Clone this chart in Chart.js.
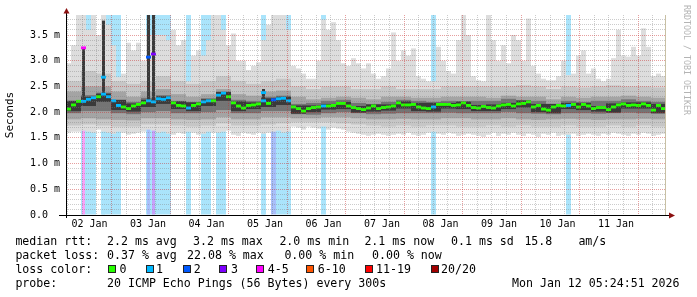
<!DOCTYPE html>
<html>
<head>
<meta charset="utf-8">
<script src="https://cdn.jsdelivr.net/npm/chart.js@4/dist/chart.umd.min.js"></script>
<style>
  body { margin: 0; background: #fff; }
  #wrap { position: relative; width: 697px; height: 297px; overflow: hidden; }
  #wrap canvas { position: absolute; left: 0; top: 0; }
  .t { position: absolute; font-family: 'DejaVu Sans Mono', monospace; font-size: 11.6px; line-height: 1; white-space: pre; color: #000; }
  .box { position: absolute; top: 265px; width: 6px; height: 6px; border: 1px solid #222; }
  #credit { position: absolute; left: 683px; top: 5px; font-family: 'DejaVu Sans Mono', monospace; font-size: 8.3px; line-height: 1; color: #b4b4b4; writing-mode: vertical-rl; white-space: pre; }
</style>
</head>
<body>
<div id="wrap">
  <canvas id="smokeChart" width="697" height="297"></canvas>
  <div id="credit">RRDTOOL / TOBI OETIKER</div>

  <span class="t" style="left:15.4px;top:236px">median rtt:</span>
  <span class="t" style="left:107px;top:236px">2.2 ms avg</span>
  <span class="t" style="left:193px;top:236px">3.2 ms max</span>
  <span class="t" style="left:279.4px;top:236px">2.0 ms min</span>
  <span class="t" style="left:364.4px;top:236px">2.1 ms now</span>
  <span class="t" style="left:451px;top:236px">0.1 ms sd</span>
  <span class="t" style="left:524.4px;top:236px">15.8</span>
  <span class="t" style="left:578.4px;top:236px">am/s</span>

  <span class="t" style="left:15.4px;top:250px">packet loss:</span>
  <span class="t" style="left:107px;top:250px">0.37 % avg</span>
  <span class="t" style="left:187px;top:250px">22.08 % max</span>
  <span class="t" style="left:284.4px;top:250px">0.00 % min</span>
  <span class="t" style="left:372px;top:250px">0.00 % now</span>

  <span class="t" style="left:15.4px;top:264px">loss color:</span>
  <div class="box" style="left:108px;background:#26ff00"></div><span class="t" style="left:119.4px;top:264px">0</span>
  <div class="box" style="left:145.5px;background:#00b8ff"></div><span class="t" style="left:156px;top:264px">1</span>
  <div class="box" style="left:182.5px;background:#0059ff"></div><span class="t" style="left:193.7px;top:264px">2</span>
  <div class="box" style="left:219px;background:#7e00ff"></div><span class="t" style="left:231px;top:264px">3</span>
  <div class="box" style="left:256px;background:#ff00ff"></div><span class="t" style="left:267.7px;top:264px">4-5</span>
  <div class="box" style="left:306px;background:#ff5500"></div><span class="t" style="left:317.7px;top:264px">6-10</span>
  <div class="box" style="left:365px;background:#ff0000"></div><span class="t" style="left:376px;top:264px">11-19</span>
  <div class="box" style="left:430.5px;background:#a10000"></div><span class="t" style="left:441px;top:264px">20/20</span>

  <span class="t" style="left:15.4px;top:277.5px">probe:</span>
  <span class="t" style="left:107px;top:277.5px">20 ICMP Echo Pings (56 Bytes) every 300s</span>
  <span class="t" style="left:512px;top:277.5px">Mon Jan 12 05:24:51 2026</span>
</div>
<script>
// Day labels on the time axis (placed at noon)
const dayLabels = ['02 Jan', '03 Jan', '04 Jan', '05 Jan', '06 Jan', '07 Jan', '08 Jan', '09 Jan', '10 Jan', '11 Jan'];
const yMax = 3.889; // ms at the top edge of the plot
const tStart = 5.41; // hours after 02 Jan 00:00
const tEnd = 245.41;

// median rtt in ms, one value per 2 hour step
const median = [
    2.06, 2.14, 2.21, 2.21, 2.25, 2.28, 2.30, 2.35, 2.30, 2.22, 2.13, 2.10, 2.07, 2.12, 2.15, 2.18, 2.22, 2.20, 2.26, 2.25,
    2.28, 2.18, 2.13, 2.12, 2.08, 2.13, 2.16, 2.20, 2.22, 2.22, 2.33, 2.37, 2.30, 2.18, 2.12, 2.08, 2.13, 2.14, 2.16, 2.22,
    2.17, 2.24, 2.26, 2.27, 2.22, 2.10, 2.07, 2.02, 2.07, 2.09, 2.10, 2.12, 2.12, 2.13, 2.17, 2.17, 2.12, 2.09, 2.07, 2.05,
    2.08, 2.12, 2.07, 2.09, 2.10, 2.12, 2.18, 2.14, 2.14, 2.15, 2.10, 2.08, 2.07, 2.10, 2.15, 2.15, 2.15, 2.13, 2.14, 2.18,
    2.13, 2.09, 2.08, 2.11, 2.09, 2.08, 2.12, 2.14, 2.15, 2.12, 2.16, 2.17, 2.20, 2.10, 2.13, 2.06, 2.04, 2.10, 2.13, 2.12,
    2.13, 2.15, 2.10, 2.15, 2.12, 2.07, 2.09, 2.09, 2.05, 2.10, 2.14, 2.16, 2.13, 2.14, 2.13, 2.16, 2.13, 2.04, 2.13, 2.07
];

// loss class per 2 hour step: 0 none, 1 = 1/20, 2 = 2/20, 3 = 3/20, 4 = 4-5/20
const loss = [
    0, 0, 0, 1, 1, 1, 0, 1, 1, 1, 1, 0, 0, 0, 0, 0, 1, 1, 1, 1,
    1, 0, 0, 0, 1, 0, 0, 1, 1, 0, 1, 1, 0, 0, 0, 0, 0, 0, 0, 1,
    0, 2, 1, 1, 1, 0, 0, 0, 0, 0, 0, 1, 0, 0, 0, 0, 0, 0, 0, 0,
    0, 0, 0, 0, 0, 0, 0, 0, 0, 0, 0, 0, 0, 1, 0, 0, 0, 0, 0, 0,
    0, 0, 0, 0, 0, 0, 0, 0, 0, 0, 0, 0, 0, 0, 0, 0, 0, 0, 0, 0,
    1, 0, 0, 0, 0, 0, 0, 0, 0, 0, 0, 0, 0, 0, 0, 0, 0, 0, 0, 0
];

// outer smoke (slowest / fastest ping) per 2 hour step, ms
const smokeTop = [
    2.95, 3.30, 3.89, 3.89, 3.60, 3.89, 3.50, 3.89, 3.70, 3.30, 2.68, 2.75, 3.35, 3.20, 3.35, 3.00, 3.50, 3.50, 3.50, 3.50,
    3.40, 3.60, 3.30, 3.40, 2.60, 3.10, 3.20, 3.10, 3.40, 3.89, 3.89, 3.60, 3.30, 3.53, 3.00, 3.00, 2.82, 2.90, 2.97, 3.40,
    3.70, 3.89, 3.89, 3.89, 3.60, 2.90, 2.85, 2.75, 2.65, 2.65, 3.00, 3.80, 3.60, 3.75, 3.40, 2.95, 2.90, 3.05, 2.95, 2.85,
    2.95, 2.75, 2.65, 2.70, 2.85, 3.55, 3.00, 3.20, 3.10, 3.24, 2.70, 2.65, 2.60, 2.60, 3.27, 3.00, 2.80, 2.75, 3.40, 3.89,
    3.50, 2.70, 2.62, 2.60, 3.89, 3.40, 3.00, 3.30, 2.95, 3.50, 3.40, 3.00, 3.82, 2.90, 2.75, 2.65, 2.62, 2.62, 2.70, 3.00,
    2.72, 2.75, 3.10, 3.20, 2.75, 2.85, 2.65, 2.60, 2.65, 3.05, 3.60, 3.10, 3.08, 3.27, 3.10, 3.63, 3.27, 2.70, 2.75, 2.70
];
const smokeBottom = [
    1.60, 1.62, 1.62, 1.64, 1.62, 1.60, 1.66, 1.62, 1.60, 1.58, 1.62, 1.60, 1.56, 1.58, 1.60, 1.62, 1.66, 1.64, 1.60, 1.62,
    1.58, 1.56, 1.60, 1.58, 1.62, 1.60, 1.56, 1.58, 1.62, 1.60, 1.60, 1.62, 1.64, 1.56, 1.54, 1.60, 1.58, 1.56, 1.60, 1.58,
    1.60, 1.62, 1.64, 1.60, 1.62, 1.72, 1.70, 1.66, 1.72, 1.70, 1.68, 1.72, 1.66, 1.70, 1.68, 1.66, 1.62, 1.60, 1.58, 1.56,
    1.54, 1.56, 1.58, 1.56, 1.54, 1.56, 1.58, 1.56, 1.60, 1.56, 1.54, 1.56, 1.60, 1.62, 1.58, 1.56, 1.60, 1.58, 1.54, 1.56,
    1.58, 1.56, 1.54, 1.52, 1.56, 1.60, 1.54, 1.58, 1.56, 1.60, 1.56, 1.54, 1.58, 1.56, 1.52, 1.58, 1.56, 1.60, 1.54, 1.56,
    1.56, 1.58, 1.54, 1.56, 1.58, 1.56, 1.54, 1.58, 1.56, 1.60, 1.58, 1.56, 1.54, 1.58, 1.56, 1.60, 1.58, 1.54, 1.56, 1.58
];

// inner smoke bands, one value per 6 hour step, ms
const band2Top = [
    2.60, 2.80, 2.75, 2.60, 2.55, 2.60, 2.70, 2.60, 2.55, 2.60, 2.70, 2.60, 2.55, 2.60, 2.65, 2.50, 2.45, 2.50, 2.50, 2.45,
    2.45, 2.50, 2.45, 2.45, 2.45, 2.50, 2.50, 2.50, 2.50, 2.50, 2.52, 2.50, 2.45, 2.50, 2.48, 2.50, 2.52, 2.50, 2.50, 2.48
];
const band2Bottom = [
    1.74, 1.76, 1.74, 1.72, 1.72, 1.76, 1.76, 1.74, 1.72, 1.74, 1.78, 1.74, 1.74, 1.76, 1.78, 1.80, 1.80, 1.80, 1.78, 1.76,
    1.74, 1.72, 1.74, 1.72, 1.74, 1.74, 1.72, 1.72, 1.74, 1.72, 1.74, 1.72, 1.72, 1.74, 1.72, 1.72, 1.74, 1.72, 1.74, 1.72
];
const band3Top = [
    2.40, 2.50, 2.50, 2.40, 2.30, 2.40, 2.45, 2.35, 2.30, 2.35, 2.45, 2.35, 2.32, 2.40, 2.42, 2.30, 2.25, 2.28, 2.30, 2.28,
    2.25, 2.30, 2.30, 2.28, 2.28, 2.30, 2.30, 2.30, 2.28, 2.32, 2.30, 2.30, 2.25, 2.30, 2.28, 2.30, 2.30, 2.32, 2.30, 2.28
];
const band3Bottom = [
    1.86, 1.88, 1.86, 1.85, 1.84, 1.88, 1.88, 1.86, 1.85, 1.86, 1.90, 1.86, 1.86, 1.90, 1.90, 1.88, 1.88, 1.90, 1.90, 1.88,
    1.86, 1.86, 1.87, 1.86, 1.86, 1.88, 1.88, 1.86, 1.86, 1.88, 1.86, 1.85, 1.86, 1.87, 1.86, 1.85, 1.86, 1.86, 1.87, 1.86
];
const coreTop = [
    2.22, 2.33, 2.38, 2.22, 2.20, 2.28, 2.33, 2.22, 2.20, 2.27, 2.40, 2.24, 2.22, 2.30, 2.32, 2.16, 2.18, 2.22, 2.24, 2.18,
    2.16, 2.20, 2.24, 2.22, 2.20, 2.22, 2.20, 2.22, 2.22, 2.26, 2.20, 2.22, 2.16, 2.22, 2.20, 2.22, 2.22, 2.25, 2.22, 2.20
];
const coreBottom = [
    1.98, 2.02, 2.02, 1.98, 1.96, 2.00, 2.02, 1.98, 1.98, 2.00, 2.04, 1.98, 1.98, 2.02, 2.02, 1.96, 1.95, 1.98, 2.00, 1.98,
    1.96, 1.97, 1.98, 1.98, 1.98, 1.99, 1.98, 1.98, 1.98, 2.00, 1.98, 1.97, 1.96, 1.98, 1.98, 1.97, 1.98, 1.99, 1.98, 1.97
];
const innerTop = [
    2.22, 2.30, 2.36, 2.24, 2.17, 2.24, 2.31, 2.21, 2.19, 2.25, 2.39, 2.21, 2.19, 2.27, 2.30, 2.13, 2.13, 2.16, 2.20, 2.12,
    2.15, 2.15, 2.21, 2.18, 2.18, 2.18, 2.21, 2.14, 2.15, 2.18, 2.23, 2.16, 2.16, 2.18, 2.18, 2.12, 2.17, 2.19, 2.19, 2.16
];
const innerBottom = [
    2.02, 2.12, 2.20, 2.04, 2.01, 2.10, 2.16, 2.06, 2.02, 2.12, 2.22, 2.02, 2.06, 2.10, 2.14, 1.97, 2.00, 2.05, 2.06, 1.99,
    2.01, 2.03, 2.07, 2.02, 2.01, 2.07, 2.06, 2.02, 2.02, 2.06, 2.09, 2.00, 1.98, 2.06, 2.04, 2.01, 1.99, 2.07, 2.07, 1.98
];

// short loss spikes: 2 hour step, spike median, its loss class, top of its smoke
const spikeStep = [3, 7, 16, 17, 39];
const spikeMedian = [3.25, 2.68, 3.07, 3.13, 2.38];
const spikeLoss = [4, 1, 2, 3, 1];
const spikeSmoke = [3.25, 3.78, 3.89, 3.89, 2.45];

const lossColor = ['#26ff00', '#00b8ff', '#0059ff', '#7e00ff', '#ff00ff', '#ff5500', '#ff0000', '#a10000'];
const lossBg = [null, '#aae4fb', '#a8bffb', '#c6a2fb', '#f8a2f8'];
const medHalf = 0.028; // half height of a median mark

const fineSteps = median.map((_, i) => i);
const coarseSteps = coreTop.map((_, i) => i);

function pairs(lo, hi) {
    return lo.map((v, i) => [v, hi[i]]);
}

// sparse tables for the spikes on the 2 hour grid
const spikeBgData = fineSteps.map(() => null);
const spikeSmokeData = fineSteps.map(() => null);
const spikeMarkData = fineSteps.map(() => null);
const spikeBgColor = fineSteps.map(() => 'rgba(0,0,0,0)');
const spikeMarkColor = fineSteps.map(() => 'rgba(0,0,0,0)');
spikeStep.forEach((s, k) => {
    spikeBgData[s] = [0, yMax];
    spikeSmokeData[s] = [median[s], spikeSmoke[k]];
    spikeMarkData[s] = [spikeMedian[k] - medHalf, spikeMedian[k] + medHalf];
    spikeBgColor[s] = lossBg[spikeLoss[k]];
    spikeMarkColor[s] = lossColor[spikeLoss[k]];
});

const barBase = {
    grouped: false,
    barPercentage: 1,
    categoryPercentage: 1,
    borderWidth: 0,
    inflateAmount: 0
};

function fineSet(data, color, order, extra) {
    return Object.assign({}, barBase, { data: data, backgroundColor: color, order: order, xAxisID: 'xf', yAxisID: 'y' }, extra || {});
}
function coarseSet(data, color, order) {
    return Object.assign({}, barBase, { data: data, backgroundColor: color, order: order, xAxisID: 'xc', yAxisID: 'y' });
}

// Axis lines and arrows in rrdtool style
const axisPlugin = {
    id: 'axisPlugin',
    afterDraw(chart) {
        const { ctx, chartArea: a } = chart;
        ctx.save();
        ctx.strokeStyle = '#c8c0a4';
        ctx.lineWidth = 1;
        ctx.beginPath();
        ctx.moveTo(a.right - 0.5, a.top);
        ctx.lineTo(a.right - 0.5, a.bottom);
        ctx.stroke();
        ctx.strokeStyle = '#000';
        ctx.beginPath();
        ctx.moveTo(a.left - 7, a.bottom + 0.5);
        ctx.lineTo(a.right + 4, a.bottom + 0.5);
        ctx.moveTo(a.left + 0.5, a.bottom + 3);
        ctx.lineTo(a.left + 0.5, a.top - 3);
        ctx.stroke();
        ctx.fillStyle = '#8b1010';
        ctx.beginPath();
        ctx.moveTo(a.left - 2.5, a.top - 1.5);
        ctx.lineTo(a.left + 3.5, a.top - 1.5);
        ctx.lineTo(a.left + 0.5, a.top - 7);
        ctx.closePath();
        ctx.fill();
        ctx.beginPath();
        ctx.moveTo(a.right + 3, a.bottom - 2.5);
        ctx.lineTo(a.right + 3, a.bottom + 3.5);
        ctx.lineTo(a.right + 9, a.bottom + 0.5);
        ctx.closePath();
        ctx.fill();
        ctx.restore();
    }
};

function createChart() {
    const ctx = document.getElementById('smokeChart').getContext('2d');
    new Chart(ctx, {
        type: 'bar',
        data: {
            datasets: [
                fineSet(loss.map(l => l > 0 ? [0, yMax] : null), loss.map(l => lossBg[l] || 'rgba(0,0,0,0)'), 10),
                fineSet(spikeBgData, spikeBgColor, 9, { barPercentage: 0.6 }),
                fineSet(pairs(smokeBottom, smokeTop), '#dddddd', 8),
                coarseSet(pairs(band2Bottom, band2Top), '#c6c6c6', 7),
                coarseSet(pairs(band3Bottom, band3Top), '#a4a4a4', 6),
                coarseSet(pairs(coreBottom, coreTop), '#747474', 5),
                coarseSet(pairs(innerBottom, innerTop), '#3a3a3a', 4),
                fineSet(spikeSmokeData, '#3a3a3a', 3, { barPercentage: 0.6 }),
                fineSet(median.map(m => [m - medHalf, m + medHalf]), loss.map(l => lossColor[l]), 2),
                fineSet(spikeMarkData, spikeMarkColor, 1)
            ]
        },
        options: {
            responsive: false,
            animation: false,
            events: [],
            layout: { padding: { left: 0, right: 31, top: 15, bottom: 62 } },
            plugins: { legend: { display: false }, tooltip: { enabled: false } },
            scales: {
                xf: { type: 'category', labels: fineSteps, offset: true, display: false, position: 'bottom' },
                xc: { type: 'category', labels: coarseSteps, offset: true, display: false, position: 'bottom' },
                xt: {
                    type: 'linear',
                    position: 'bottom',
                    min: tStart,
                    max: tEnd,
                    afterBuildTicks: scale => {
                        const ticks = [];
                        for (let h = 6; h <= tEnd; h += 6) ticks.push({ value: h });
                        scale.ticks = ticks;
                    },
                    afterFit: scale => { scale.height = 20; },
                    ticks: {
                        autoSkip: false,
                        maxRotation: 0,
                        padding: 3,
                        color: '#000',
                        font: { family: 'DejaVu Sans Mono', size: 10 },
                        callback: v => (v % 24 === 12 ? dayLabels[(v - 12) / 24] : '')
                    },
                    grid: {
                        z: 1,
                        drawTicks: false,
                        color: c => (c.tick && c.tick.value % 24 === 0 ? 'rgba(200,40,40,0.45)' : 'rgba(128,128,128,0.4)')
                    },
                    border: { display: false, dash: [1, 1] }
                },
                y: {
                    type: 'linear',
                    min: 0,
                    max: yMax,
                    afterBuildTicks: scale => {
                        const ticks = [];
                        for (let k = 0; k <= 38; k++) ticks.push({ value: k / 10 });
                        scale.ticks = ticks;
                    },
                    afterFit: scale => { scale.width = 66; },
                    ticks: {
                        autoSkip: false,
                        padding: 6,
                        color: '#000',
                        font: { family: 'DejaVu Sans Mono', size: 10 },
                        callback: v => {
                            const k = Math.round(v * 10);
                            if (k % 5 !== 0) return '';
                            return k === 0 ? '0.0  ' : (k / 10).toFixed(1) + ' m';
                        }
                    },
                    title: {
                        display: true,
                        text: 'Seconds',
                        color: '#000',
                        padding: { top: 4, bottom: 0 },
                        font: { family: 'DejaVu Sans Mono', size: 11 }
                    },
                    grid: {
                        z: 1,
                        drawTicks: false,
                        color: c => (c.tick && Math.round(c.tick.value * 10) % 5 === 0 ? 'rgba(200,40,40,0.45)' : 'rgba(128,128,128,0.4)')
                    },
                    border: { display: false, dash: [1, 1] }
                }
            }
        },
        plugins: [axisPlugin]
    });
}

createChart();
</script>
</body>
</html>
